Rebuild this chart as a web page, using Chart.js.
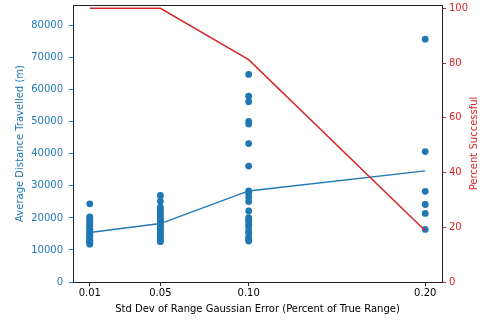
<!DOCTYPE html>
<html>
<head>
<meta charset="utf-8">
<script src="https://cdn.jsdelivr.net/npm/chart.js@4/dist/chart.umd.min.js"></script>
<style>
  html, body { margin: 0; padding: 0; background: #fff; }
  #wrap { width: 482px; height: 320px; position: relative; }
</style>
</head>
<body>
<div id="wrap"><canvas id="chart"></canvas></div>
<script>
// x values (std dev of range error) and their tick labels
const noiseLevels = [0.01, 0.05, 0.10, 0.20];
const tickLabels = ["0.01", "0.05", "0.10", "0.20"];
const distanceTicks = [0, 10000, 20000, 30000, 40000, 50000, 60000, 70000, 80000];
const percentTicks = [0, 20, 40, 60, 80, 100];

// mean distance line and success rate
const meanDistance = [15420, 18230, 28440, 34690];
const percentSuccess = [100, 100, 81.25, 18.75];

// individual runs, distance travelled (m)
const runs001 = [24400, 20300, 19800, 19200, 18600, 18000, 17400, 16800, 16200, 15700, 15200,
  14700, 14200, 13800, 13400, 13000, 12600, 12200, 11800];
const runs005 = [27000, 25200, 23400, 22600, 21800, 21000, 20300, 19600, 19000, 18400, 17800,
  17200, 16600, 16000, 15400, 14800, 14200, 13600, 13100, 12600];
const runs010 = [64800, 58000, 56300, 50100, 49300, 43200, 36200, 28400, 27600, 26400, 25100,
  22200, 20100, 19500, 19000, 18000, 17200, 15900, 15200, 13900, 13300, 12800];
const runs020 = [75800, 40700, 28300, 24200, 21400, 16400];

const allRuns = [runs001, runs005, runs010, runs020];

const blue = "#1f77b4";
const red = "#d62728";
const font = { family: "DejaVu Sans", size: 10 };

const scatterPoints = [];
allRuns.forEach(function(runs, i) {
  runs.forEach(function(v) {
    scatterPoints.push({ x: noiseLevels[i], y: v });
  });
});

// plot frame + right axis title (reads bottom to top, like the left one)
const frame = {
  id: "frame",
  afterDatasetsDraw: function(chart) {
    const a = chart.chartArea;
    const ctx = chart.ctx;
    ctx.save();
    ctx.strokeStyle = "#222";
    ctx.lineWidth = 1;
    ctx.strokeRect(Math.round(a.left) + 0.5, Math.round(a.top) + 0.5,
      Math.round(a.right - a.left), Math.round(a.bottom - a.top));
    ctx.restore();
  },
  afterDraw: function(chart) {
    const a = chart.chartArea;
    const ctx = chart.ctx;
    ctx.save();
    ctx.translate(474.5, (a.top + a.bottom) / 2);
    ctx.rotate(-Math.PI / 2);
    ctx.font = "10px 'DejaVu Sans'";
    ctx.fillStyle = red;
    ctx.textAlign = "center";
    ctx.textBaseline = "middle";
    ctx.fillText("Percent Successful", 0, 0);
    ctx.restore();
  }
};

function fixedTicks(values) {
  return function(scale) {
    scale.ticks = values.map(function(v) { return { value: v }; });
  };
}

function fitWidth(w) {
  return function(scale) {
    scale.width = w;
    scale.paddingTop = 0;
    scale.paddingBottom = 0;
  };
}

const ctx = document.getElementById("chart").getContext("2d");
new Chart(ctx, {
  data: {
    datasets: [
      {
        type: "line",
        label: "Percent Successful",
        data: noiseLevels.map(function(x, i) { return { x: x, y: percentSuccess[i] }; }),
        yAxisID: "y1",
        borderColor: red,
        borderWidth: 1.5,
        pointRadius: 0,
        order: 0
      },
      {
        type: "line",
        label: "Mean distance",
        data: noiseLevels.map(function(x, i) { return { x: x, y: meanDistance[i] }; }),
        yAxisID: "y",
        borderColor: blue,
        borderWidth: 1.5,
        pointRadius: 0,
        order: 1
      },
      {
        type: "scatter",
        label: "Runs",
        data: scatterPoints,
        yAxisID: "y",
        backgroundColor: blue,
        borderColor: blue,
        borderWidth: 0,
        pointRadius: 3.4,
        order: 2
      }
    ]
  },
  options: {
    responsive: true,
    maintainAspectRatio: false,
    animation: false,
    layout: { padding: { top: 5, left: 14, right: 0, bottom: 0 } },
    plugins: { legend: { display: false }, tooltip: { enabled: false } },
    scales: {
      x: {
        type: "linear",
        min: 0.0005,
        max: 0.2095,
        afterBuildTicks: fixedTicks(noiseLevels),
        afterFit: function(scale) {
          scale.height = 38;
          scale.paddingLeft = 0;
          scale.paddingRight = 0;
        },
        ticks: {
          color: "#000",
          font: font,
          padding: 1,
          maxRotation: 0,
          autoSkip: false,
          callback: function(v) {
            const i = noiseLevels.indexOf(v);
            return i >= 0 ? tickLabels[i] : "";
          }
        },
        grid: { drawOnChartArea: false, drawTicks: true, tickLength: 4, color: "#222" },
        border: { display: false },
        title: {
          display: true,
          text: "Std Dev of Range Gaussian Error (Percent of True Range)",
          color: "#000",
          font: font,
          padding: { top: 0, bottom: 5 }
        }
      },
      y: {
        type: "linear",
        position: "left",
        min: 0,
        max: 86470,
        afterBuildTicks: fixedTicks(distanceTicks),
        afterFit: fitWidth(59),
        ticks: {
          color: blue, font: font, padding: 6, autoSkip: false,
          callback: function(v) { return String(v); }
        },
        grid: { drawOnChartArea: false, drawTicks: true, tickLength: 4, color: blue },
        border: { display: false },
        title: {
          display: true,
          text: "Average Distance Travelled (m)",
          color: blue,
          font: font,
          padding: { top: 0, bottom: 2 }
        }
      },
      y1: {
        type: "linear",
        position: "right",
        min: 0,
        max: 101.2,
        afterBuildTicks: fixedTicks(percentTicks),
        afterFit: fitWidth(40),
        ticks: {
          color: red, font: font, padding: 3, autoSkip: false,
          callback: function(v) { return String(v); }
        },
        grid: { drawOnChartArea: false, drawTicks: true, tickLength: 4, color: red },
        border: { display: false },
        title: { display: false }
      }
    }
  },
  plugins: [frame]
});
</script>
</body>
</html>
